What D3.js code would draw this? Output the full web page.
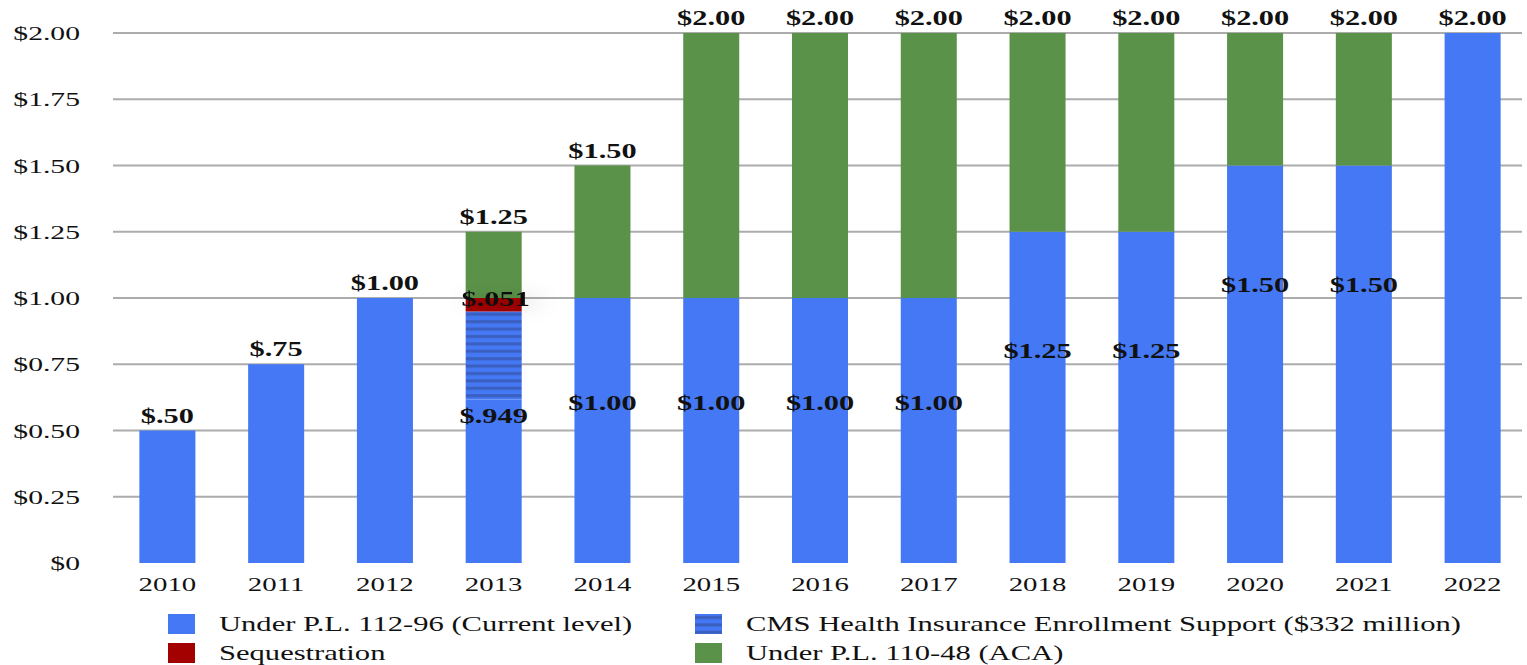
<!DOCTYPE html>
<html>
<head>
<meta charset="utf-8">
<script src="https://cdn.jsdelivr.net/npm/d3@7"></script>
<style>
    body { margin: 0; background: #fff; }
    svg text { font-family: "Liberation Serif", "Times New Roman", serif; fill: #111; }
</style>
</head>
<body>
<div id="chart"></div>
<script>
// Datos del gráfico
const years = ['2010', '2011', '2012', '2013', '2014', '2015', '2016', '2017', '2018', '2019', '2020', '2021', '2022'];
const currentLevel = [0.5, 0.75, 1.0, 0.617, 1.0, 1.0, 1.0, 1.0, 1.25, 1.25, 1.5, 1.5, 2.0];
const cmsSupport = [0, 0, 0, 0.332, 0, 0, 0, 0, 0, 0, 0, 0, 0];
const sequestration = [0, 0, 0, 0.051, 0, 0, 0, 0, 0, 0, 0, 0, 0];
const acaLevel = [0, 0, 0, 0.25, 0.5, 1.0, 1.0, 1.0, 0.75, 0.75, 0.5, 0.5, 0];
const totalLabels = ['$.50', '$.75', '$1.00', '$1.25', '$1.50', '$2.00', '$2.00', '$2.00', '$2.00', '$2.00', '$2.00', '$2.00', '$2.00'];
const innerLabels = ['', '', '', '$.949', '$1.00', '$1.00', '$1.00', '$1.00', '$1.25', '$1.25', '$1.50', '$1.50', ''];
const yTicks = [0, 0.25, 0.5, 0.75, 1.0, 1.25, 1.5, 1.75, 2.0];
const yTickLabels = ['$0', '$0.25', '$0.50', '$0.75', '$1.00', '$1.25', '$1.50', '$1.75', '$2.00'];
const seriesNames = ['Under P.L. 112-96 (Current level)', 'CMS Health Insurance Enrollment Support ($332 million)', 'Sequestration', 'Under P.L. 110-48 (ACA)'];

const COLORS = { current: '#4478f4', cms: '#4478f4', seq: '#a30000', aca: '#5b9249' };

// El texto del original está estirado en horizontal
const TEXT_STRETCH = 1.48;

/**
 * Añade un texto estirado horizontalmente.
 * @param {Object} parent - La selección donde se añade.
 * @param {number} x - Posición x.
 * @param {number} y - Posición y (línea base).
 * @param {string} label - El texto.
 * @param {string} anchor - Alineación del texto.
 * @param {number} [stretch] - Factor de estiramiento.
 * @returns {Object} - La selección del texto.
 */
function addText(parent, x, y, label, anchor, stretch = TEXT_STRETCH) {
    return parent.append('text')
        .attr('transform', `translate(${x},${y}) scale(${stretch},1)`)
        .attr('text-anchor', anchor)
        .text(label);
}

/**
 * Dibuja el gráfico de barras apiladas.
 */
function drawChart() {
    const width = 1527;
    const height = 665;

    const svg = d3.select('#chart').append('svg')
        .attr('width', width)
        .attr('height', height);

    const defs = svg.append('defs');

    // Patrón de rayas horizontales para CMS
    const pattern = defs.append('pattern')
        .attr('id', 'stripes')
        .attr('patternUnits', 'userSpaceOnUse')
        .attr('width', 10)
        .attr('height', 7.4);
    pattern.append('rect').attr('width', 10).attr('height', 7.4).attr('fill', COLORS.cms);
    pattern.append('rect').attr('y', 2).attr('width', 10).attr('height', 3).attr('fill', '#3a5fbf');

    const shadow = defs.append('filter')
        .attr('id', 'shadow')
        .attr('x', '-60%').attr('y', '-150%')
        .attr('width', '220%').attr('height', '400%');
    shadow.append('feDropShadow')
        .attr('dx', 6).attr('dy', 2)
        .attr('stdDeviation', 9)
        .attr('flood-color', '#000')
        .attr('flood-opacity', 0.22);

    const x = d3.scaleBand()
        .domain(years)
        .range([113, 1527])
        .paddingInner(0.485)
        .paddingOuter(0.2425);

    const y = d3.scaleLinear()
        .domain([0, 2])
        .range([563, 33]);

    // Líneas de la cuadrícula
    svg.append('g')
        .selectAll('line')
        .data(yTicks.filter(t => t > 0))
        .enter().append('line')
        .attr('x1', 113)
        .attr('x2', 1522)
        .attr('y1', d => y(d))
        .attr('y2', d => y(d))
        .attr('stroke', '#acacac')
        .attr('stroke-width', 2);

    // Etiquetas del eje Y
    const yAxis = svg.append('g').attr('font-size', 19.5);
    yTicks.forEach((t, i) => addText(yAxis, 80, y(t) + 7, yTickLabels[i], 'end', 1.52));

    // Etiquetas del eje X
    const xAxis = svg.append('g').attr('font-size', 19.5);
    years.forEach(year => addText(xAxis, x(year) + x.bandwidth() / 2, 591, year, 'middle'));

    const rows = years.map((year, i) => ({
        year: year,
        current: currentLevel[i],
        cms: cmsSupport[i],
        seq: sequestration[i],
        aca: acaLevel[i]
    }));

    const stack = d3.stack().keys(['current', 'cms', 'seq', 'aca']);
    const series = stack(rows);
    const fills = { current: COLORS.current, cms: 'url(#stripes)', seq: COLORS.seq, aca: COLORS.aca };

    svg.append('g')
        .selectAll('g')
        .data(series)
        .enter().append('g')
        .attr('fill', d => fills[d.key])
        .selectAll('rect')
        .data(d => d.filter(p => p[1] > p[0]))
        .enter().append('rect')
        .attr('x', d => x(d.data.year))
        .attr('width', x.bandwidth())
        .attr('y', d => y(d[1]))
        .attr('height', d => y(d[0]) - y(d[1]));

    const labels = svg.append('g')
        .attr('font-weight', 'bold')
        .attr('font-size', 20.5);

    rows.forEach((d, i) => {
        const cx = x(d.year) + x.bandwidth() / 2;
        const total = d.current + d.cms + d.seq + d.aca;

        // Total encima de cada barra
        addText(labels, cx, y(total) - 8, totalLabels[i], 'middle');

        // Etiquetas dentro de la parte azul
        if (innerLabels[i]) {
            const top = d.current + d.cms;
            const offset = top > 1 ? 0.45 : 0.395;
            addText(labels, cx, y(top - offset) + 7, innerLabels[i], 'middle');
        }
    });

    // Etiqueta del secuestro
    const seqRow = rows[years.indexOf('2013')];
    addText(labels, x('2013') + x.bandwidth() / 2 + 2, y(seqRow.current + seqRow.cms + seqRow.seq) + 8, '$.051', 'middle')
        .attr('filter', 'url(#shadow)');

    drawLegend(svg);
}

/**
 * Dibuja la leyenda en dos columnas.
 * @param {Object} svg - La selección del SVG.
 */
function drawLegend(svg) {
    const items = [
        { name: seriesNames[0], fill: COLORS.current, x: 168, y: 614 },
        { name: seriesNames[1], fill: 'url(#stripes)', x: 695, y: 614 },
        { name: seriesNames[2], fill: COLORS.seq, x: 168, y: 643 },
        { name: seriesNames[3], fill: COLORS.aca, x: 695, y: 643 }
    ];

    const legend = svg.append('g').attr('font-size', 20);

    items.forEach(item => {
        const g = legend.append('g')
            .attr('transform', `translate(${item.x},${item.y})`);
        g.append('rect')
            .attr('width', 27)
            .attr('height', 20)
            .attr('fill', item.fill);
        addText(g, 51, 17, item.name, 'start', 1.53);
    });
}

drawChart();
</script>
</body>
</html>
